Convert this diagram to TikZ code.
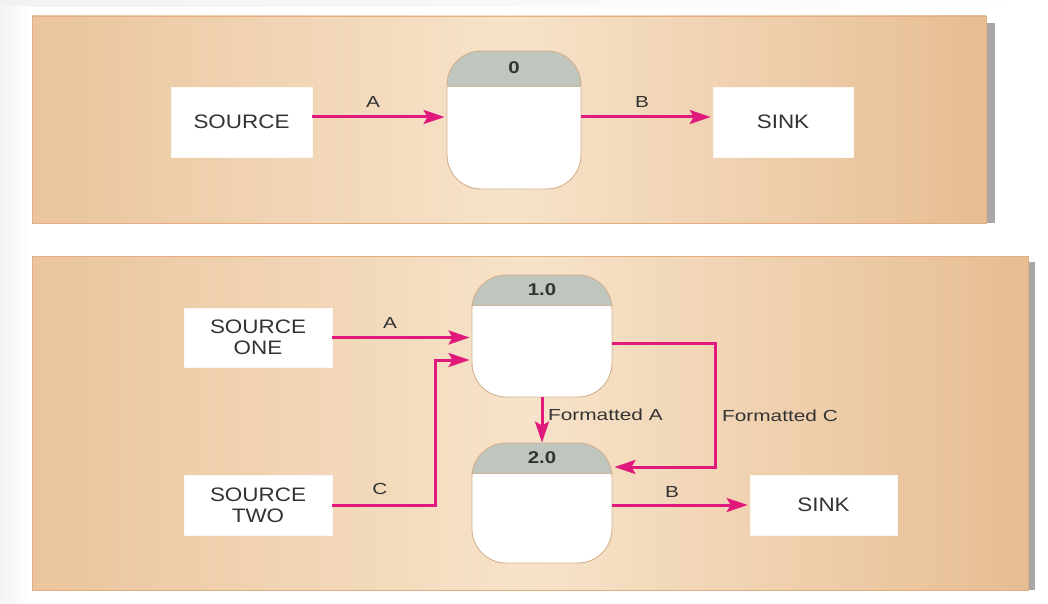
\documentclass[tikz,border=0pt]{standalone}
\usepackage{fontspec}
\setmainfont{Liberation Sans}
\newfontfamily\boxfont[FakeStretch=1.15]{Liberation Sans}
\newfontfamily\labfont[FakeStretch=1.3]{Liberation Sans}
\newfontfamily\numfont[FakeStretch=1.2]{Liberation Sans}
\usetikzlibrary{arrows.meta,calc}
\definecolor{flowc}{HTML}{E0197D}
\definecolor{panL}{HTML}{EAC49C}
\definecolor{panM}{HTML}{F7E3CA}
\definecolor{panR}{HTML}{E7BD92}
\definecolor{panEdge}{HTML}{E2AE82}
\definecolor{shadowc}{HTML}{A9A6A4}
\definecolor{hdrc}{HTML}{BEC6BE}
\definecolor{procline}{HTML}{D3B08C}
\definecolor{txtc}{HTML}{333333}
\begin{document}
\begin{tikzpicture}[x=1pt,y=-1pt,
  extbox/.style={fill=white, draw=white!90!panEdge, line width=0.6pt, inner sep=0pt,
    align=center, text=txtc, font=\boxfont\fontsize{19.5}{22}\selectfont},
  proc/.style={draw=procline, fill=white, rounded corners=34pt, line width=0.9pt, inner sep=0pt,
    path picture={\fill[hdrc, sharp corners] ([yshift=2pt]path picture bounding box.north west) rectangle ([yshift=-#1]path picture bounding box.north east);
      \draw[procline!70!hdrc, line width=0.6pt, sharp corners] ([yshift=-#1]path picture bounding box.north west) -- ([yshift=-#1]path picture bounding box.north east);}},
  num/.style={text=txtc, inner sep=0pt, font=\numfont\bfseries\fontsize{17}{20}\selectfont},
  lab/.style={text=txtc, inner sep=0pt, font=\labfont\fontsize{16}{19}\selectfont},
  flow/.style={draw=flowc, line width=3pt, shorten >=2pt,
    -{Stealth[length=21pt,width=14pt,inset=4pt]}},
  panel/.style={draw=panEdge, line width=0.8pt}
]
\useasboundingbox (0,0) rectangle (1048,604);
% page background
\fill[white] (0,0) rectangle (1048,604);
\shade[left color=gray!10, right color=white] (0,0) rectangle (1048,7);
\shade[left color=gray!9, right color=white] (0,7) rectangle (30,604);
% panels with shadows
\fill[shadowc] (986,23) rectangle (995,223);
\shade[panel, left color=panL, right color=panR, middle color=panM] (32,16) rectangle (986,223);
\fill[shadowc] (1028,262) rectangle (1035,590);
\shade[panel, left color=panL, right color=panR, middle color=panM] (32,256) rectangle (1028,590);

% ---------- top diagram ----------
\node[extbox, minimum width=141pt, minimum height=70pt] (src) at (241.5,122) {SOURCE};
\node[proc=35pt, minimum width=134pt, minimum height=138pt] (p0) at (514,120) {};
\node[num] (n0) at ([yshift=-17.5pt]p0.north) {0};
\node[extbox, minimum width=140pt, minimum height=70pt] (sink) at (783,122) {SINK};
\coordinate (yA) at (0,117);
\draw[flow] (src.east |- yA) -- (p0.west |- yA);
\draw[flow] (p0.east |- yA) -- (sink.west |- yA);
\node[lab] (la) at (373,102) {A};
\node[lab] (lb) at (642,102) {B};

% ---------- bottom diagram ----------
\node[extbox, minimum width=148pt, minimum height=59pt] (s1) at (258,337.5) {SOURCE\\[-1pt]ONE};
\node[extbox, minimum width=148pt, minimum height=60pt] (s2) at (258,505) {SOURCE\\[-1pt]TWO};
\node[proc=30pt, minimum width=140pt, minimum height=122pt] (p1) at (542,336) {};
\node[num] (n1) at ([yshift=-15pt]p1.north) {1.0};
\node[proc=30pt, minimum width=140pt, minimum height=120pt] (p2) at (542,503) {};
\node[num] (n2) at ([yshift=-15pt]p2.north) {2.0};
\node[extbox, minimum width=147pt, minimum height=60pt] (sink2) at (823.5,505) {SINK};

\coordinate (cbend) at (435,360);
\coordinate (fcbend) at (715,343);
\coordinate (fcy) at (0,467);

\draw[flow] (s1.east) -- (s1.east -| p1.west);
\draw[flow] (s2.east) -| (cbend) -- (cbend -| p1.west);
\draw[flow, shorten >=0pt] (p1.south) -- (p2.north);
\draw[flow] (p1.east |- fcbend) -- (fcbend) |- (fcy -| p2.east);
\draw[flow] (sink2.west -| p2.east) -- (sink2.west);

\node[lab] (la2) at (390,323) {A};
\node[lab] (lc2) at (380,489) {C};
\node[lab, anchor=west] (lfa) at (548,415) {Formatted A};
\node[lab, anchor=west] (lfc) at (722,416) {Formatted C};
\node[lab] (lb2) at (672,492) {B};
\end{tikzpicture}
\end{document}
